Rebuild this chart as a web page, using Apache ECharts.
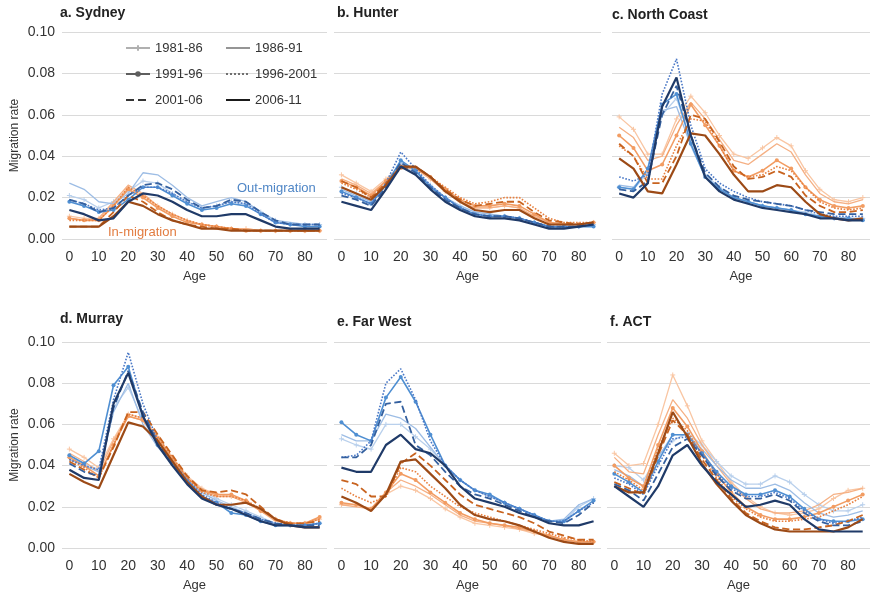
<!DOCTYPE html>
<html>
<head>
<meta charset="utf-8">
<script src="https://cdn.jsdelivr.net/npm/echarts@6/dist/echarts.min.js"></script>
<style>html,body{margin:0;padding:0;background:#fff}#c{width:870px;height:594px}</style>
</head>
<body>
<div id="c"></div>
<script>
// ---- categories / labels ----
const ages = ['0','5','10','15','20','25','30','35','40','45','50','55','60','65','70','75','80','85'];
const periods = ['1981-86','1986-91','1991-96','1996-2001','2001-06','2006-11'];
const panelTitles = ['a. Sydney','b. Hunter','c. North Coast','d. Murray','e. Far West','f. ACT'];
const yMin = 0, yMax = 0.1, yStep = 0.02;

// ---- values: rows = periods (1981-86 ... 2006-11), columns = ages 0..85 ----
const sydneyOut = [
 [0.021,0.019,0.015,0.018,0.023,0.028,0.027,0.022,0.018,0.015,0.016,0.018,0.017,0.013,0.009,0.007,0.007,0.007],
 [0.027,0.024,0.018,0.017,0.022,0.032,0.031,0.026,0.020,0.016,0.018,0.020,0.018,0.013,0.009,0.008,0.007,0.007],
 [0.018,0.016,0.013,0.014,0.019,0.025,0.025,0.021,0.017,0.014,0.015,0.017,0.016,0.012,0.008,0.007,0.006,0.006],
 [0.019,0.017,0.014,0.015,0.021,0.025,0.025,0.022,0.018,0.015,0.016,0.018,0.017,0.012,0.008,0.007,0.007,0.007],
 [0.019,0.017,0.013,0.015,0.021,0.026,0.027,0.024,0.019,0.015,0.016,0.019,0.018,0.013,0.009,0.007,0.007,0.007],
 [0.014,0.012,0.009,0.010,0.018,0.022,0.021,0.018,0.014,0.011,0.011,0.012,0.012,0.009,0.006,0.005,0.005,0.005]
];
const sydneyIn = [
 [0.011,0.010,0.010,0.017,0.025,0.021,0.016,0.012,0.009,0.007,0.006,0.005,0.005,0.004,0.004,0.004,0.004,0.004],
 [0.010,0.009,0.010,0.018,0.026,0.022,0.016,0.012,0.009,0.007,0.006,0.005,0.005,0.004,0.004,0.004,0.004,0.004],
 [0.010,0.009,0.009,0.016,0.024,0.020,0.015,0.011,0.008,0.007,0.006,0.005,0.004,0.004,0.004,0.004,0.004,0.004],
 [0.009,0.009,0.009,0.016,0.025,0.021,0.016,0.012,0.009,0.007,0.006,0.005,0.004,0.004,0.004,0.004,0.004,0.004],
 [0.006,0.006,0.006,0.013,0.021,0.018,0.013,0.009,0.007,0.006,0.005,0.005,0.004,0.004,0.004,0.004,0.004,0.004],
 [0.006,0.006,0.006,0.011,0.018,0.016,0.012,0.009,0.007,0.005,0.005,0.004,0.004,0.004,0.004,0.004,0.004,0.004]
];
const hunterOut = [
 [0.025,0.022,0.018,0.027,0.036,0.032,0.026,0.020,0.016,0.013,0.012,0.011,0.010,0.008,0.006,0.006,0.006,0.007],
 [0.024,0.021,0.018,0.027,0.037,0.033,0.026,0.020,0.016,0.013,0.012,0.011,0.010,0.008,0.006,0.006,0.006,0.007],
 [0.023,0.020,0.017,0.026,0.038,0.033,0.025,0.020,0.015,0.012,0.011,0.011,0.010,0.008,0.006,0.006,0.006,0.006],
 [0.022,0.020,0.017,0.027,0.042,0.034,0.026,0.020,0.015,0.012,0.011,0.011,0.010,0.008,0.006,0.006,0.006,0.007],
 [0.021,0.019,0.016,0.025,0.037,0.032,0.025,0.019,0.015,0.012,0.011,0.011,0.010,0.008,0.006,0.006,0.006,0.007],
 [0.018,0.016,0.014,0.024,0.035,0.031,0.024,0.018,0.014,0.011,0.010,0.010,0.009,0.007,0.005,0.005,0.006,0.007]
];
const hunterIn = [
 [0.031,0.027,0.023,0.029,0.035,0.034,0.029,0.023,0.018,0.015,0.015,0.016,0.015,0.011,0.008,0.007,0.007,0.008],
 [0.029,0.026,0.022,0.028,0.035,0.034,0.029,0.023,0.018,0.015,0.015,0.016,0.015,0.011,0.008,0.007,0.007,0.008],
 [0.028,0.025,0.021,0.028,0.035,0.034,0.030,0.024,0.019,0.016,0.016,0.017,0.016,0.012,0.008,0.007,0.007,0.008],
 [0.027,0.024,0.020,0.027,0.034,0.035,0.030,0.025,0.020,0.017,0.018,0.020,0.020,0.015,0.010,0.008,0.008,0.008],
 [0.028,0.025,0.020,0.027,0.034,0.035,0.030,0.024,0.019,0.016,0.017,0.018,0.018,0.013,0.009,0.008,0.007,0.008],
 [0.025,0.022,0.019,0.026,0.035,0.035,0.030,0.023,0.018,0.014,0.013,0.014,0.014,0.010,0.007,0.007,0.007,0.008]
];
const northCoastOut = [
 [0.025,0.024,0.032,0.060,0.068,0.048,0.031,0.025,0.020,0.018,0.016,0.015,0.014,0.013,0.011,0.010,0.010,0.010],
 [0.026,0.025,0.033,0.062,0.064,0.045,0.030,0.024,0.020,0.018,0.016,0.015,0.014,0.012,0.011,0.010,0.010,0.010],
 [0.025,0.024,0.034,0.065,0.070,0.046,0.030,0.024,0.020,0.018,0.016,0.015,0.014,0.012,0.011,0.010,0.010,0.009],
 [0.030,0.028,0.031,0.070,0.087,0.055,0.034,0.027,0.023,0.020,0.018,0.017,0.016,0.014,0.012,0.011,0.011,0.011],
 [0.024,0.023,0.028,0.060,0.074,0.050,0.032,0.025,0.021,0.019,0.018,0.017,0.016,0.014,0.013,0.012,0.012,0.012],
 [0.022,0.020,0.027,0.064,0.078,0.050,0.030,0.023,0.019,0.017,0.015,0.014,0.013,0.012,0.010,0.010,0.009,0.009]
];
const northCoastIn = [
 [0.059,0.053,0.041,0.041,0.058,0.069,0.061,0.050,0.041,0.039,0.044,0.049,0.045,0.033,0.024,0.019,0.018,0.020],
 [0.054,0.049,0.038,0.040,0.055,0.066,0.058,0.048,0.038,0.036,0.041,0.046,0.042,0.031,0.022,0.018,0.017,0.019],
 [0.050,0.044,0.033,0.036,0.050,0.065,0.055,0.045,0.033,0.030,0.033,0.038,0.034,0.025,0.019,0.016,0.015,0.016],
 [0.045,0.040,0.029,0.029,0.045,0.058,0.057,0.045,0.033,0.030,0.031,0.035,0.033,0.025,0.018,0.015,0.014,0.015],
 [0.046,0.040,0.027,0.027,0.040,0.060,0.058,0.047,0.035,0.029,0.030,0.033,0.030,0.021,0.016,0.013,0.013,0.014],
 [0.039,0.034,0.023,0.022,0.036,0.051,0.050,0.041,0.031,0.023,0.023,0.026,0.025,0.018,0.012,0.010,0.009,0.010]
];
const murrayOut = [
 [0.044,0.041,0.038,0.068,0.078,0.062,0.050,0.042,0.034,0.028,0.024,0.021,0.018,0.015,0.012,0.011,0.011,0.012],
 [0.043,0.040,0.037,0.066,0.080,0.060,0.049,0.041,0.033,0.027,0.023,0.020,0.017,0.014,0.012,0.011,0.011,0.012],
 [0.045,0.041,0.047,0.079,0.088,0.064,0.050,0.041,0.033,0.025,0.022,0.017,0.016,0.013,0.011,0.011,0.011,0.012],
 [0.043,0.040,0.038,0.072,0.095,0.070,0.052,0.042,0.033,0.026,0.022,0.019,0.017,0.014,0.012,0.011,0.011,0.012],
 [0.041,0.037,0.035,0.068,0.086,0.066,0.051,0.041,0.032,0.025,0.021,0.019,0.017,0.014,0.012,0.011,0.011,0.011],
 [0.038,0.034,0.033,0.070,0.085,0.064,0.050,0.040,0.031,0.024,0.021,0.019,0.016,0.013,0.011,0.011,0.010,0.010]
];
const murrayIn = [
 [0.048,0.044,0.039,0.053,0.065,0.063,0.054,0.044,0.035,0.029,0.026,0.025,0.023,0.018,0.014,0.012,0.012,0.014],
 [0.046,0.042,0.037,0.052,0.064,0.062,0.053,0.043,0.034,0.028,0.025,0.025,0.022,0.018,0.013,0.012,0.012,0.014],
 [0.044,0.040,0.035,0.050,0.064,0.062,0.053,0.043,0.034,0.028,0.026,0.026,0.023,0.018,0.014,0.012,0.012,0.015],
 [0.043,0.039,0.034,0.050,0.065,0.063,0.054,0.044,0.034,0.027,0.025,0.025,0.023,0.019,0.014,0.012,0.012,0.014],
 [0.042,0.038,0.034,0.049,0.066,0.066,0.055,0.045,0.035,0.028,0.027,0.028,0.026,0.020,0.014,0.012,0.012,0.013],
 [0.036,0.032,0.029,0.045,0.061,0.059,0.052,0.042,0.032,0.025,0.021,0.021,0.022,0.019,0.014,0.011,0.010,0.010]
];
const farWestOut = [
 [0.053,0.050,0.048,0.060,0.060,0.054,0.048,0.040,0.033,0.028,0.025,0.022,0.019,0.016,0.013,0.013,0.020,0.024],
 [0.055,0.052,0.052,0.065,0.063,0.058,0.049,0.040,0.033,0.028,0.025,0.022,0.019,0.016,0.013,0.014,0.021,0.024],
 [0.061,0.055,0.052,0.073,0.083,0.071,0.055,0.040,0.033,0.028,0.026,0.022,0.019,0.016,0.013,0.013,0.018,0.023],
 [0.044,0.045,0.052,0.080,0.087,0.072,0.052,0.040,0.033,0.028,0.025,0.022,0.019,0.016,0.013,0.013,0.018,0.022],
 [0.044,0.044,0.050,0.070,0.071,0.050,0.045,0.037,0.030,0.026,0.024,0.021,0.018,0.015,0.013,0.012,0.016,0.022],
 [0.039,0.037,0.037,0.050,0.055,0.048,0.046,0.040,0.030,0.024,0.022,0.020,0.017,0.015,0.012,0.011,0.011,0.013]
];
const farWestIn = [
 [0.021,0.021,0.019,0.026,0.030,0.028,0.024,0.019,0.015,0.012,0.011,0.010,0.009,0.007,0.006,0.004,0.003,0.003],
 [0.021,0.020,0.019,0.027,0.033,0.030,0.026,0.021,0.016,0.013,0.012,0.011,0.009,0.008,0.006,0.004,0.003,0.003],
 [0.022,0.021,0.019,0.027,0.036,0.033,0.027,0.022,0.017,0.014,0.012,0.011,0.010,0.008,0.006,0.004,0.003,0.003],
 [0.029,0.025,0.022,0.025,0.039,0.037,0.030,0.025,0.020,0.017,0.015,0.013,0.011,0.009,0.007,0.005,0.004,0.003],
 [0.033,0.031,0.025,0.025,0.041,0.046,0.040,0.033,0.026,0.021,0.019,0.017,0.015,0.012,0.008,0.006,0.004,0.004],
 [0.025,0.022,0.018,0.026,0.042,0.043,0.036,0.029,0.021,0.016,0.014,0.013,0.011,0.008,0.005,0.003,0.002,0.002]
];
const actOut = [
 [0.040,0.039,0.033,0.045,0.052,0.056,0.050,0.042,0.035,0.031,0.031,0.035,0.032,0.026,0.021,0.018,0.018,0.021],
 [0.038,0.035,0.030,0.044,0.055,0.055,0.048,0.040,0.033,0.029,0.029,0.031,0.028,0.022,0.017,0.015,0.016,0.018],
 [0.036,0.032,0.027,0.042,0.055,0.055,0.046,0.037,0.030,0.026,0.026,0.028,0.025,0.019,0.014,0.013,0.013,0.014],
 [0.034,0.031,0.026,0.040,0.053,0.054,0.046,0.036,0.029,0.025,0.025,0.027,0.024,0.018,0.014,0.012,0.013,0.015],
 [0.031,0.028,0.023,0.036,0.049,0.053,0.045,0.035,0.028,0.024,0.024,0.026,0.023,0.017,0.013,0.011,0.011,0.013],
 [0.030,0.025,0.020,0.030,0.045,0.050,0.040,0.032,0.026,0.020,0.021,0.023,0.021,0.014,0.009,0.008,0.008,0.008]
];
const actIn = [
 [0.046,0.040,0.041,0.060,0.084,0.069,0.052,0.042,0.032,0.025,0.020,0.017,0.016,0.017,0.019,0.024,0.028,0.029],
 [0.044,0.037,0.036,0.055,0.072,0.063,0.050,0.040,0.031,0.024,0.019,0.017,0.017,0.018,0.021,0.026,0.027,0.029],
 [0.040,0.034,0.030,0.050,0.068,0.059,0.047,0.036,0.027,0.020,0.016,0.014,0.014,0.015,0.017,0.020,0.023,0.026],
 [0.037,0.033,0.028,0.048,0.063,0.057,0.045,0.034,0.025,0.019,0.015,0.013,0.013,0.014,0.015,0.018,0.021,0.025],
 [0.032,0.029,0.026,0.045,0.062,0.055,0.043,0.033,0.024,0.017,0.013,0.010,0.009,0.009,0.010,0.011,0.013,0.016],
 [0.030,0.027,0.027,0.046,0.066,0.054,0.041,0.031,0.023,0.016,0.012,0.009,0.008,0.008,0.008,0.008,0.010,0.014]
];

const panelsOut = [sydneyOut, hunterOut, northCoastOut, murrayOut, farWestOut, actOut];
const panelsIn  = [sydneyIn, hunterIn, northCoastIn, murrayIn, farWestIn, actIn];

// ---- styling ----
const FONT = '"Liberation Sans", Arial, sans-serif';
const blues   = ['#b9d0ec','#9dbde5','#4f8fd2','#4a78c6','#34609f','#1f3a68'];
const oranges = ['#f9c6a3','#f5b084','#f29c62','#e8803f','#c8631f','#9c4a16'];
const greys   = ['#b0b0b0','#959595','#5e5e5e','#707070','#333333','#1a1a1a'];
const lineTypes  = ['solid','solid','solid','dotted','dashed','solid'];
const lineWidths = [1.3,1.3,1.6,1.6,1.8,2.2];
const CROSS = 'path://M0,5L10,5M5,0L5,10';
function symbolFor(p){ return p===0 ? CROSS : (p===2 ? 'circle' : 'none'); }
function symbolSizeFor(p){ return p===0 ? 5 : 4; }

// grids: [left, top, width, height]
const grids = [
  [62, 32, 265, 207], [334, 32, 267, 207], [612, 32, 263, 207],
  [62, 342, 265, 206], [334, 342, 267, 206], [607, 342, 268, 206]
];
const titlePos = [[60,14],[337,14],[612,16],[60,320],[337,323],[610,323]];

function legendItems(list) {
  return list.map(k => ({
    name: periods[k],
    itemStyle: (k === 0 || k === 2) ? undefined : { opacity: 0 }
  }));
}
const legendCommon = {
  orient: 'vertical', top: 41, itemGap: 12, padding: 0,
  itemWidth: 24, itemHeight: 7, selectedMode: false,
  textStyle: { fontSize: 13, color: '#333', fontFamily: FONT, lineHeight: 14 }
};

const option = {
  animation: false,
  backgroundColor: '#fff',
  textStyle: { fontFamily: FONT },
  grid: grids.map(g => ({ left: g[0], top: g[1], width: g[2], height: g[3], containLabel: false })),
  xAxis: grids.map((g, i) => ({
    gridIndex: i, type: 'category', data: ages, boundaryGap: true,
    axisLine: { show: false }, axisTick: { show: false },
    axisLabel: { interval: 1, color: '#333', fontSize: 14, margin: 11, fontFamily: FONT },
    name: 'Age', nameLocation: 'middle', nameGap: 31,
    nameTextStyle: { color: '#333', fontSize: 13, fontFamily: FONT },
    splitLine: { show: false }
  })),
  yAxis: grids.map((g, i) => ({
    gridIndex: i, type: 'value', min: yMin, max: yMax, interval: yStep,
    axisLine: { show: false }, axisTick: { show: false },
    axisLabel: { show: i % 3 === 0, color: '#333', fontSize: 14, margin: 7, fontFamily: FONT,
                 formatter: v => v.toFixed(2) },
    splitLine: { lineStyle: { color: '#dadada', width: 1 } },
    name: i % 3 === 0 ? 'Migration rate' : '', nameLocation: 'middle', nameGap: 41,
    nameTextStyle: { color: '#333', fontSize: 12, fontFamily: FONT }
  })),
  title: panelTitles.map((t, i) => ({
    text: t, left: titlePos[i][0], top: titlePos[i][1] - 8, padding: 0,
    textStyle: { fontSize: 14, fontWeight: 'bold', color: '#222', fontFamily: FONT }
  })),
  legend: [
    Object.assign({}, legendCommon, { left: 125, data: legendItems([0, 2, 4]) }),
    Object.assign({}, legendCommon, { left: 225, data: legendItems([1, 3, 5]) })
  ],
  graphic: [
    { type: 'text', left: 237, top: 182, style: { text: 'Out-migration', fill: '#4f86c6', font: '13px ' + FONT } },
    { type: 'text', left: 108, top: 226, style: { text: 'In-migration', fill: '#e27c40', font: '13px ' + FONT } }
  ],
  series: []
};

// legend-only series (grey styles)
periods.forEach((p, k) => {
  option.series.push({
    name: p, type: 'line', xAxisIndex: 0, yAxisIndex: 0, data: [],
    color: greys[k], symbol: symbolFor(k) === 'none' ? 'circle' : symbolFor(k), symbolSize: symbolSizeFor(k),
    itemStyle: { color: greys[k], borderColor: greys[k], borderWidth: k === 0 ? 1.2 : 0 },
    lineStyle: { color: greys[k], type: lineTypes[k], width: lineWidths[k] + 0.4 }
  });
});

function addSeries(panelArrays, palette, dir) {
  panelArrays.forEach((rows, pi) => {
    rows.forEach((vals, k) => {
      option.series.push({
        name: dir + ' ' + periods[k], type: 'line', xAxisIndex: pi, yAxisIndex: pi,
        data: vals, silent: true,
        symbol: symbolFor(k), symbolSize: symbolSizeFor(k), showSymbol: k === 0 || k === 2,
        itemStyle: { color: palette[k], borderColor: palette[k], borderWidth: k === 0 ? 1 : 0 },
        lineStyle: { color: palette[k], type: lineTypes[k], width: lineWidths[k] },
        z: 2 + k
      });
    });
  });
}
addSeries(panelsIn, oranges, 'In');
addSeries(panelsOut, blues, 'Out');

const chart = echarts.init(document.getElementById('c'), null, { renderer: 'canvas' });
chart.setOption(option);
</script>
</body>
</html>
